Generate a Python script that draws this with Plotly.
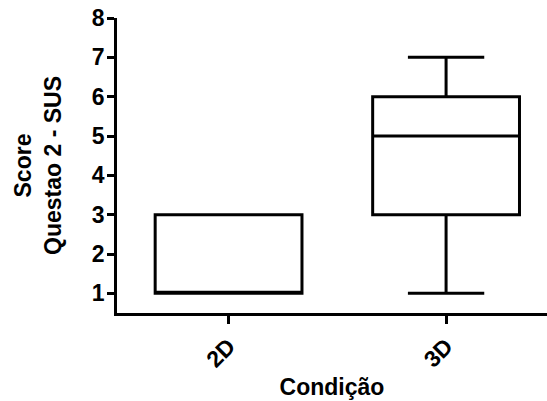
import plotly.graph_objects as go

categories = ["2D", "3D"]
lower_fence = [1, 1]
q1 = [1, 3]
median = [1, 5]
q3 = [3, 6]
upper_fence = [3, 7]
y_ticks = [1, 2, 3, 4, 5, 6, 7, 8]

font = dict(family="Liberation Sans, Arial, sans-serif", size=23, color="black", weight="bold")

fig = go.Figure()
fig.add_trace(go.Box(
    x=categories,
    q1=q1, median=median, q3=q3,
    lowerfence=lower_fence, upperfence=upper_fence,
    width=0.675,
    whiskerwidth=0.52,
    line=dict(color="black", width=3),
    fillcolor="white",
    boxpoints=False,
    showlegend=False,
    hoverinfo="skip",
))

fig.update_layout(
    width=547, height=401,
    margin=dict(l=117, r=0, t=18, b=88),
    paper_bgcolor="white", plot_bgcolor="white",
    font=font,
    xaxis=dict(
        type="category",
        range=[-0.513, 1.464],
        showgrid=False, zeroline=False,
        showline=True, linecolor="black", linewidth=2.5,
        ticks="outside", ticklen=8, tickwidth=2.5, tickcolor="black",
        tickangle=-45,
        tickfont=font,
        title=dict(text="Condição", font=font, standoff=8),
    ),
    yaxis=dict(
        range=[0.5, 8],
        tickvals=y_ticks,
        showgrid=False, zeroline=False,
        showline=True, linecolor="black", linewidth=2.5,
        ticks="outside", ticklen=7, tickwidth=2.5, tickcolor="black",
        ticklabelstandoff=-2,
        tickfont=font,
        title=dict(text="Score<br>Questao 2 - SUS", font=font, standoff=24),
    ),
)

fig.write_html("out.html")
